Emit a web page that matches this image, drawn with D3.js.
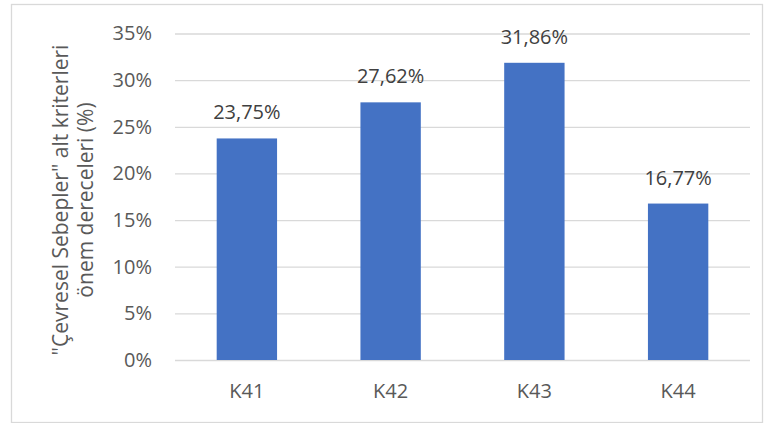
<!DOCTYPE html>
<html><head><meta charset="utf-8">
<script src="https://cdn.jsdelivr.net/npm/d3@7"></script>
<style>body{margin:0;background:#fff;}svg{display:block;}</style>
</head><body>
<script>
const categories = ["K41","K42","K43","K44"];
const values = [23.75, 27.62, 31.86, 16.77];
const valueLabels = ["23,75%","27,62%","31,86%","16,77%"];
const yTicks = [0,5,10,15,20,25,30,35];
const yTitleLines = ['"Çevresel Sebepler" alt kriterleri','önem dereceleri (%)'];

const W=767,H=423;
const font = "'Open Sans', sans-serif";
const fs = "20px";
const svg = d3.select("body").append("svg").attr("width",W).attr("height",H);
svg.append("rect").attr("x",11.5).attr("y",4.5).attr("width",751).attr("height",418)
  .attr("fill","#fff").attr("stroke","#d9d9d9").attr("stroke-width",1.3);

const x = d3.scaleBand().domain(categories).range([175,750]).paddingInner(0.58).paddingOuter(0.29);
const y = d3.scaleLinear().domain([0,35]).range([360,33.5]);

const yAxis = svg.append("g").attr("transform","translate(175,0)")
  .call(d3.axisLeft(y).tickValues(yTicks).tickFormat(d=>d+"%").tickSize(-575).tickPadding(23));
yAxis.select(".domain").remove();
yAxis.selectAll(".tick line").attr("stroke","#d9d9d9").attr("stroke-width",1.3);
yAxis.selectAll(".tick text").attr("fill","#595959").style("font-family",font).style("font-size",fs);

svg.append("g").selectAll("rect").data(values).join("rect")
  .attr("x",(d,i)=>x(categories[i])).attr("width",x.bandwidth())
  .attr("y",d=>y(d)).attr("height",d=>y(0)-y(d)).attr("fill","#4472C4");

svg.append("g").selectAll("text").data(values).join("text")
  .attr("x",(d,i)=>x(categories[i])+x.bandwidth()/2).attr("y",d=>y(d)-19)
  .attr("text-anchor","middle").attr("fill","#404040")
  .style("font-family",font).style("font-size",fs).text((d,i)=>valueLabels[i]);

const xAxis = svg.append("g").attr("transform","translate(0,360)")
  .call(d3.axisBottom(x).tickSize(0).tickPadding(0));
xAxis.select(".domain").remove();
xAxis.selectAll(".tick text").attr("dy",null).attr("y",38).attr("fill","#595959").style("font-family",font).style("font-size",fs);

const t = svg.append("text").attr("transform","translate(68,200) rotate(-90)")
  .attr("text-anchor","middle").attr("fill","#595959").style("font-family",font).style("font-size","21px");
yTitleLines.forEach((l,i)=>t.append("tspan").attr("x",0).attr("dy",i?"1.2em":0).text(l));
</script>
</body></html>
